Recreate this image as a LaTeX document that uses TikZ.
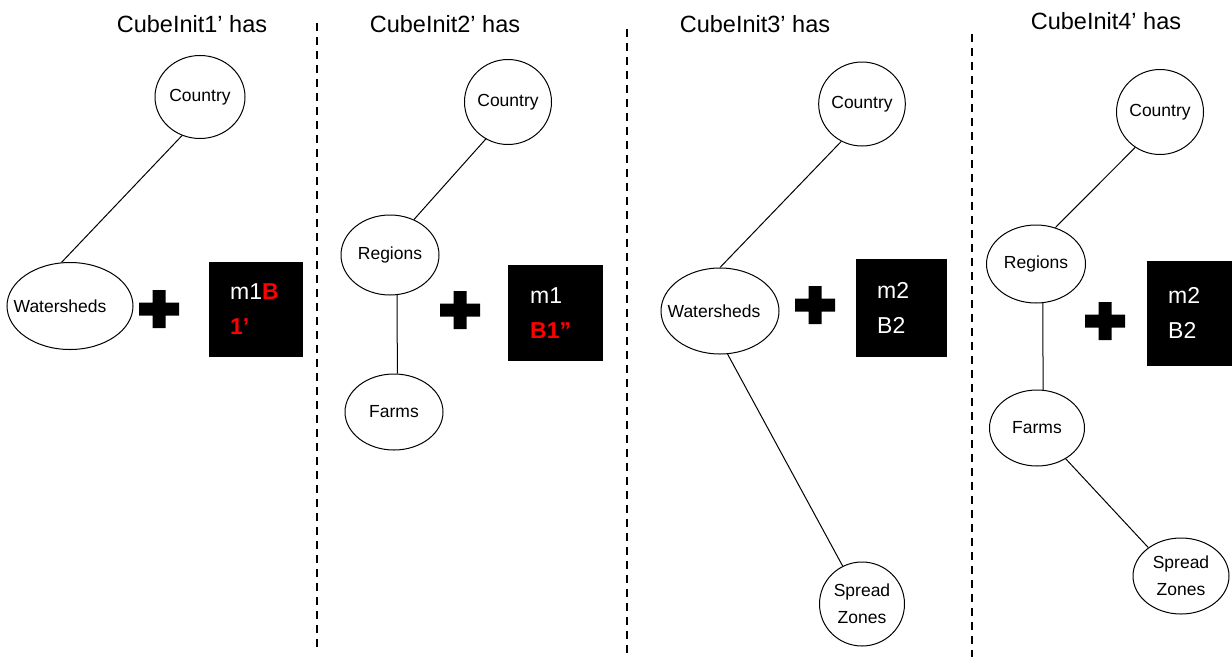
\documentclass[tikz,border=0pt]{standalone}
\usepackage{fontspec}
\setmainfont{Liberation Sans}
\usetikzlibrary{shapes.geometric}
\newcommand\plusmark[1]{\fill (#1) +(-20,-6.5) rectangle +(20,6.5) (#1) +(-6.5,-19) rectangle +(6.5,19);}
\newcommand\nw[2]{\makebox[0pt]{#1\hspace{#2}}}
\begin{document}
\begin{tikzpicture}[x=1pt,y=-1pt,
  ell/.style={draw,ellipse,line width=1pt,inner sep=0pt,font=\fontsize{17.5}{27}\selectfont,align=center},
  ttl/.style={font=\fontsize{23.5}{28}\selectfont},
  blk/.style={fill=black,draw=black,text=white,font=\fontsize{23}{35}\selectfont,align=left,inner xsep=21pt,inner ysep=0pt,anchor=north west},
  sep/.style={line width=2pt,dash pattern=on 8pt off 6pt},
  link/.style={line width=1pt}]
\useasboundingbox (0,0) rectangle (1232,657);

% separators
\draw[sep] (317,23) -- (317,648);
\draw[sep] (627,29) -- (627,653);
\draw[sep] (972,34) -- (972,657);

% titles
\node[ttl] (t1) at (192,24) {CubeInit1’ has};
\node[ttl] (t2) at (445,24) {CubeInit2’ has};
\node[ttl] (t3) at (755,24) {CubeInit3’ has};
\node[ttl] (t4) at (1106,21) {CubeInit4’ has};

% panel 1
\node[ell,minimum width=90,minimum height=83] (c1) at (200,97) {Country};
\node[ell,minimum width=126,minimum height=87] (w1) at (70,306) {\nw{Watersheds}{20pt}};
\draw[link] (c1.245) -- (w1.101);
\plusmark{159,309}
\node[blk,minimum width=93,minimum height=94,text width=51] (b1) at (209,262) {m1\textcolor{red}{\textbf{B}}\\\textcolor{red}{\textbf{1’}}};

% panel 2
\node[ell,minimum width=87,minimum height=85] (c2) at (508,102) {Country};
\node[ell,minimum width=98,minimum height=80] (r2) at (390,255) {Regions};
\node[ell,minimum width=98,minimum height=76] (f2) at (394,412) {Farms};
\draw[link] (c2.239) -- (r2.56);
\draw[link] (r2.280) -- (f2.85);
\plusmark{460,310}
\node[blk,minimum width=94,minimum height=95,text width=50] (b2) at (508,265) {m1\\\textcolor{red}{\textbf{B1”}}};

% panel 3
\node[ell,minimum width=85,minimum height=84] (c3) at (862,104) {Country};
\node[ell,minimum width=118,minimum height=86] (w3) at (720,311) {\nw{Watersheds}{12pt}};
\node[ell,minimum width=85,minimum height=84] (s3) at (862,604) {Spread\\Zones};
\draw[link] (c3.241) -- (w3.90);
\draw[link] (w3.280) -- (s3.117);
\plusmark{815,305}
\node[blk,minimum width=90,minimum height=97,text width=48] (b3) at (856,259) {m2\\B2};

% panel 4
\node[ell,minimum width=87,minimum height=85] (c4) at (1160,112) {Country};
\node[ell,minimum width=99,minimum height=78] (r4) at (1036,264) {Regions};
\node[ell,minimum width=95,minimum height=76] (f4) at (1037,428) {Farms};
\node[ell,minimum width=96,minimum height=76] (s4) at (1181,576) {Spread\\Zones};
\draw[link] (c4.235) -- (r4.62);
\draw[link] (r4.280) -- (f4.81);
\draw[link] (f4.313) -- (s4.139);
\plusmark{1105,321}
\node[blk,minimum width=85,minimum height=104,text width=43] (b4) at (1147,261) {m2\\B2};
\end{tikzpicture}
\end{document}
